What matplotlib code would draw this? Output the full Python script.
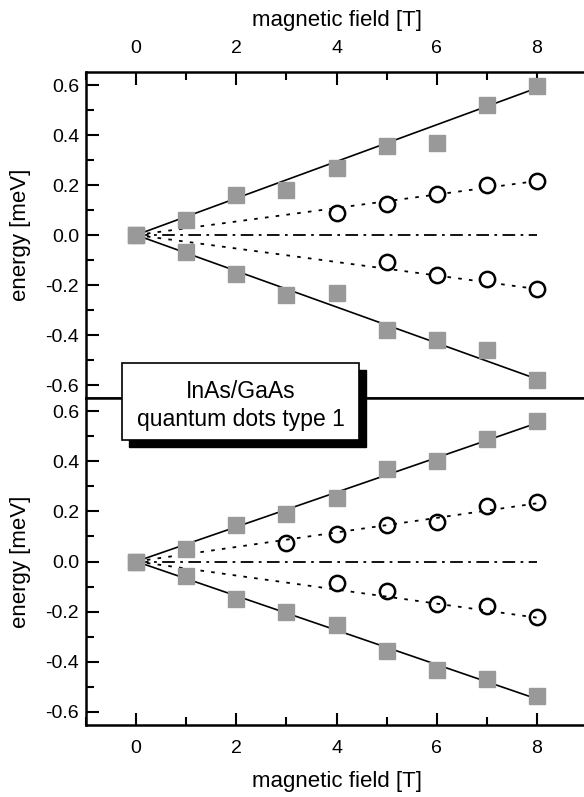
import matplotlib.pyplot as plt
from matplotlib.patches import Rectangle
from matplotlib.ticker import MultipleLocator
import numpy as np

plt.rcParams['font.family'] = ['Liberation Sans', 'DejaVu Sans']

# magnetic field [T]
B = np.arange(0, 9)

# top panel
top_sq_up = [0.0, 0.06, 0.16, 0.18, 0.27, 0.355, 0.37, 0.52, 0.595]
top_sq_dn = [0.0, -0.068, -0.155, -0.24, -0.23, -0.38, -0.42, -0.46, -0.58]
top_ci_up_B = [4, 5, 6, 7, 8]
top_ci_up = [0.09, 0.126, 0.163, 0.20, 0.215]
top_ci_dn_B = [5, 6, 7, 8]
top_ci_dn = [-0.109, -0.16, -0.177, -0.215]
top_slopes_solid = [0.0735, -0.0720]
top_slopes_dot = [0.0270, -0.0270]

# bottom panel
bot_sq_up = [0.0, 0.049, 0.146, 0.19, 0.252, 0.369, 0.40, 0.49, 0.56]
bot_sq_dn = [0.0, -0.056, -0.15, -0.20, -0.252, -0.358, -0.431, -0.468, -0.538]
bot_ci_up_B = [3, 4, 5, 6, 7, 8]
bot_ci_up = [0.073, 0.11, 0.147, 0.159, 0.22, 0.239]
bot_ci_dn_B = [4, 5, 6, 7, 8]
bot_ci_dn = [-0.084, -0.118, -0.17, -0.179, -0.222]
bot_slopes_solid = [0.0690, -0.0685]
bot_slopes_dot = [0.0290, -0.0280]

W, H = 584, 797
fig = plt.figure(figsize=(W / 100, H / 100), dpi=100)
left = 86 / W
width = 501 / W
ax1 = fig.add_axes([left, 1 - 398 / H, width, 326 / H])
ax2 = fig.add_axes([left, 1 - 725 / H, width, 327 / H])

gray = '#999999'
fitB = np.array([0, 8])


def draw(ax, sq_up, sq_dn, cu_B, cu, cd_B, cd, s_solid, s_dot, face):
    for s in s_solid:
        ax.plot(fitB, s * fitB, color='black', lw=1.2, zorder=2)
    for s in s_dot:
        ax.plot(fitB, s * fitB, color='black', lw=1.3, ls=(0, (2, 4)), zorder=2)
    ax.plot(fitB, [0, 0], color='black', lw=1.3, ls=(0, (7, 3, 1.5, 3)), zorder=2)
    ax.plot(B, sq_up, ls='none', marker='s', ms=11.5, mfc=gray, mec=gray, zorder=3)
    ax.plot(B, sq_dn, ls='none', marker='s', ms=11.5, mfc=gray, mec=gray, zorder=3)
    ax.plot(cu_B, cu, ls='none', marker='o', ms=11, mfc=face, mec='black', mew=1.8, zorder=4)
    ax.plot(cd_B, cd, ls='none', marker='o', ms=11, mfc=face, mec='black', mew=1.8, zorder=4)
    ax.set_xlim(-1, 9)
    ax.set_ylim(-0.652, 0.652)
    ax.xaxis.set_major_locator(MultipleLocator(2))
    ax.xaxis.set_minor_locator(MultipleLocator(1))
    ax.yaxis.set_major_locator(MultipleLocator(0.2))
    ax.yaxis.set_minor_locator(MultipleLocator(0.1))
    ax.yaxis.set_major_formatter(lambda v, p: f'{v:.1f}')
    ax.tick_params(direction='in', which='major', length=9, width=1.5, labelsize=14)
    ax.tick_params(direction='in', which='minor', length=6, width=1.5)
    ax.tick_params(axis='x', which='major', pad=11)
    ax.tick_params(axis='y', which='major', pad=5)
    for sp in ax.spines.values():
        sp.set_linewidth(1.8)
    ax.set_ylabel('energy [meV]', fontsize=16, labelpad=10)


draw(ax1, top_sq_up, top_sq_dn, top_ci_up_B, top_ci_up, top_ci_dn_B, top_ci_dn,
     top_slopes_solid, top_slopes_dot, 'white')
draw(ax2, bot_sq_up, bot_sq_dn, bot_ci_up_B, bot_ci_up, bot_ci_dn_B, bot_ci_dn,
     bot_slopes_solid, bot_slopes_dot, 'none')

ax1.xaxis.tick_top()
ax1.xaxis.set_label_position('top')
ax1.tick_params(which='both', left=True, right=False, top=True, bottom=False,
                labeltop=True, labelbottom=False)
ax1.set_xlabel('magnetic field [T]', fontsize=16, labelpad=10)
ax2.tick_params(which='both', left=True, right=False, top=False, bottom=True)
ax2.set_xlabel('magnetic field [T]', fontsize=16, labelpad=10)

# label box with shadow
bx, by, bw, bh = 122 / W, 1 - 440 / H, 237 / W, 77 / H
fig.patches.append(Rectangle((bx + 7 / W, by - 7 / H), bw, bh, transform=fig.transFigure,
                             facecolor='black', edgecolor='black', zorder=5))
fig.patches.append(Rectangle((bx, by), bw, bh, transform=fig.transFigure,
                             facecolor='white', edgecolor='black', lw=1.2, zorder=6))
fig.text(bx + bw / 2, by + bh / 2 - 4 / H, 'InAs/GaAs\nquantum dots type 1', ha='center',
         va='center', fontsize=16.5, linespacing=1.3, zorder=7)

fig.savefig('out.png', dpi=100)
